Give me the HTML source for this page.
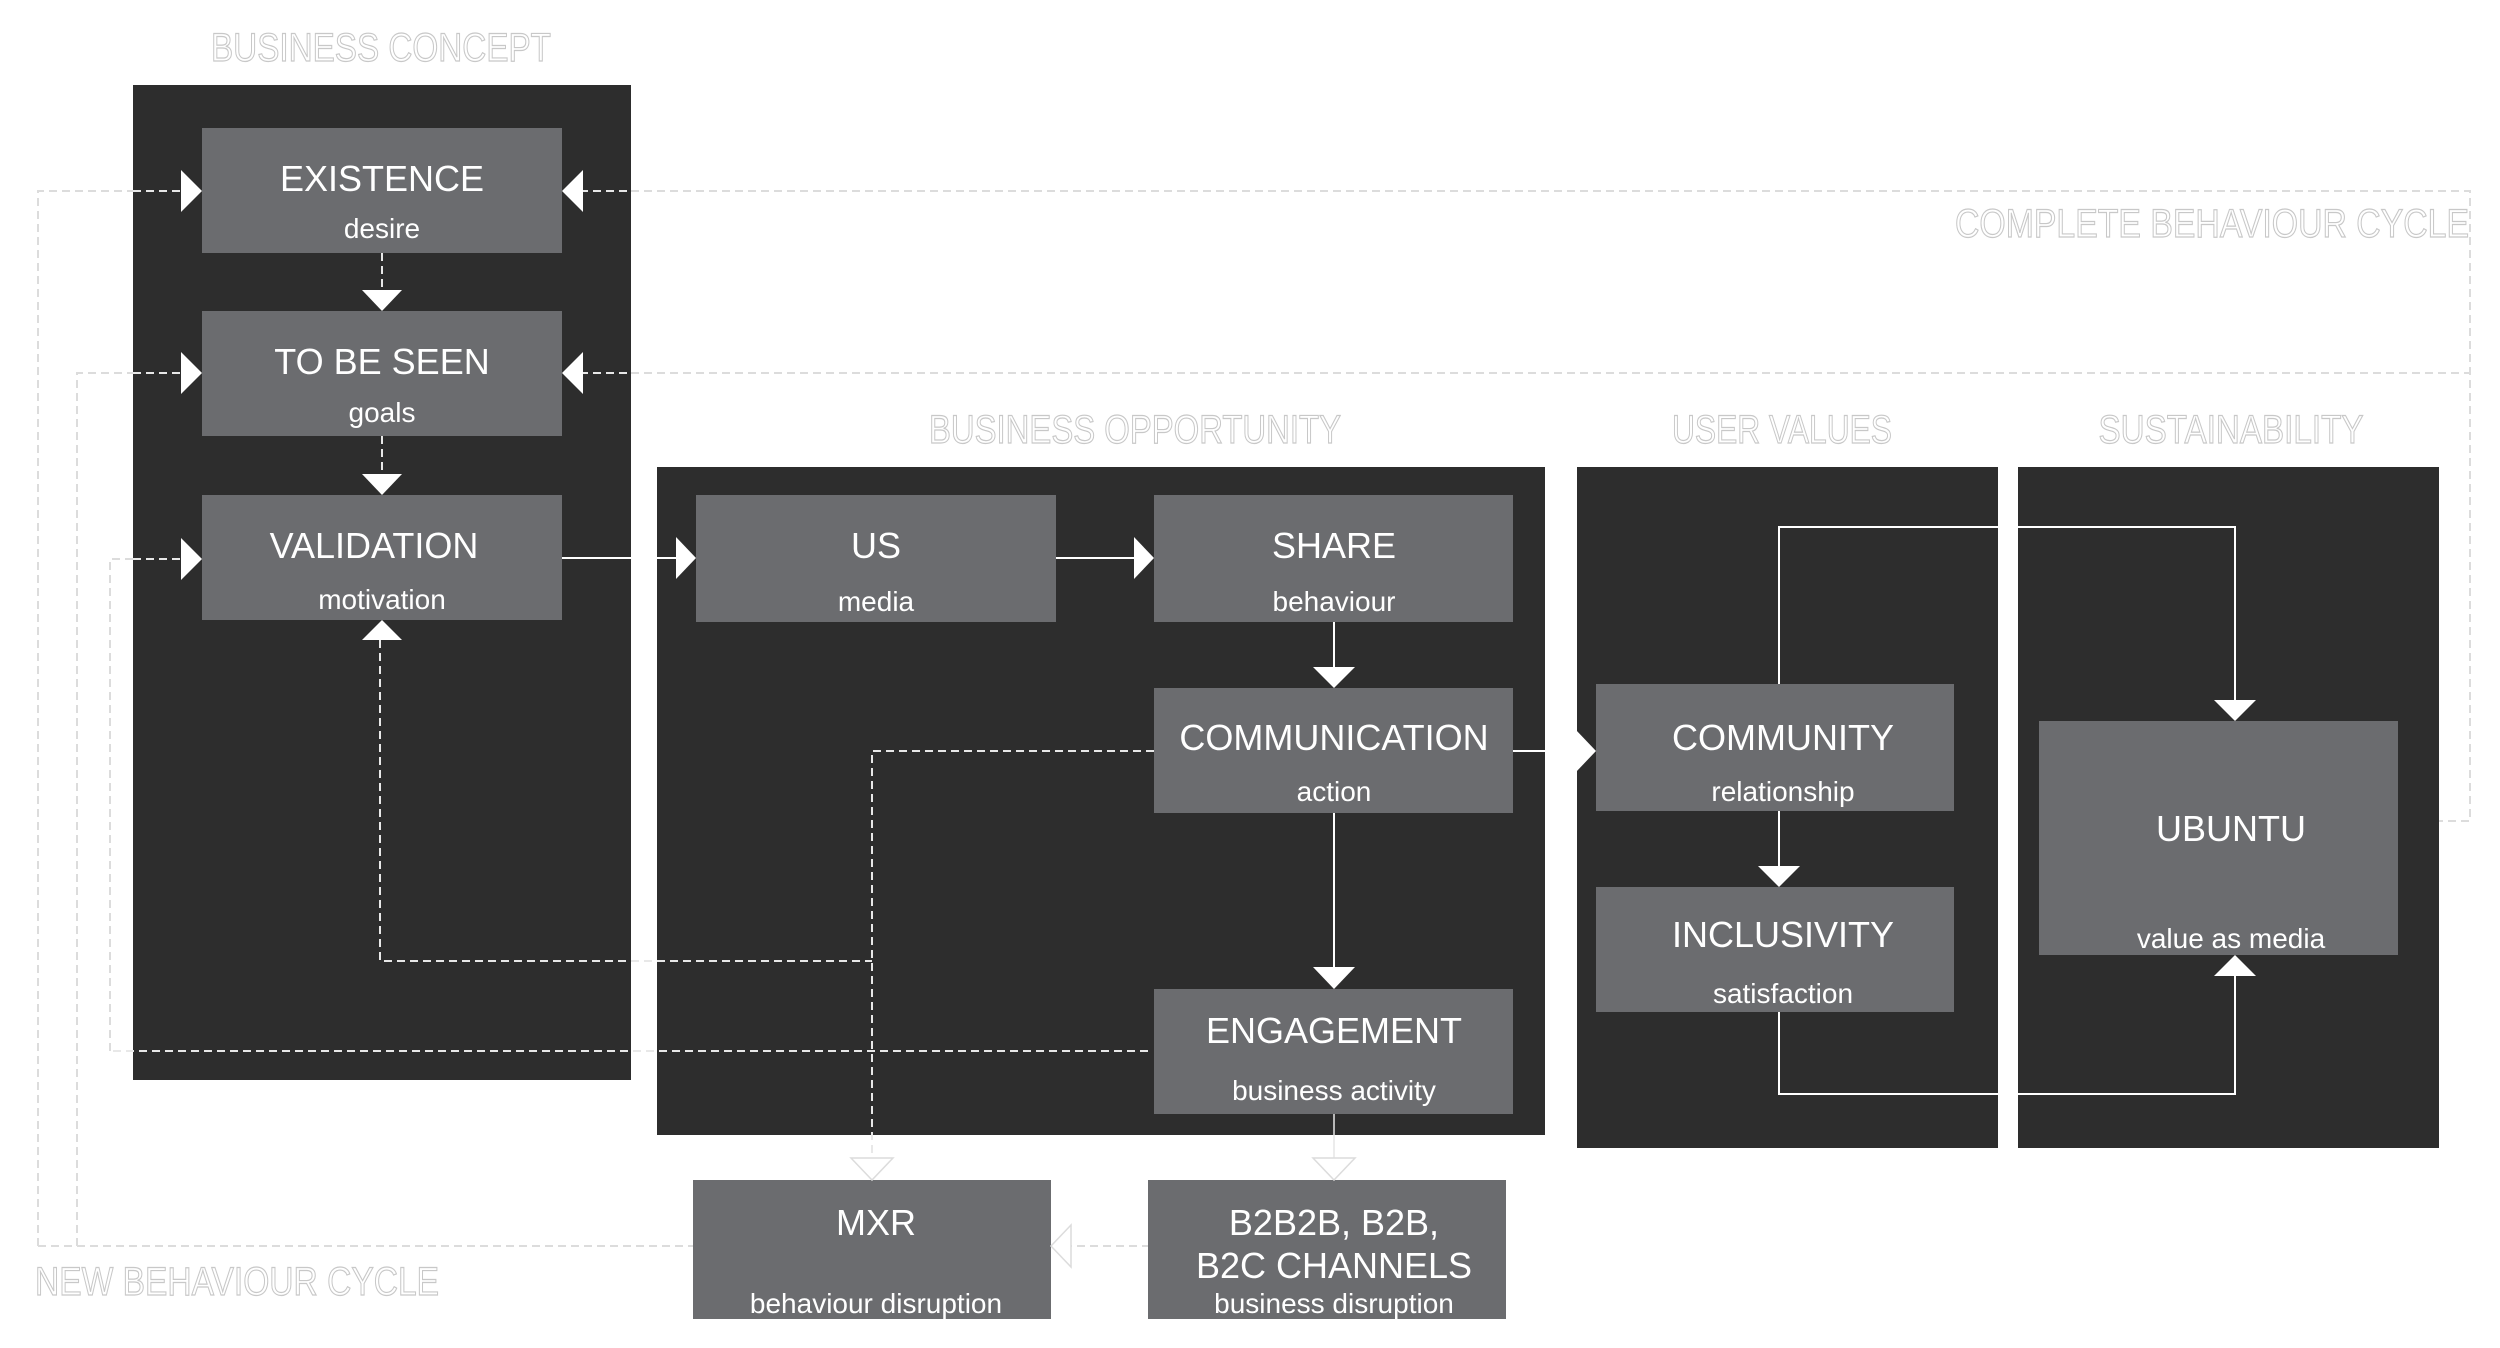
<!DOCTYPE html>
<html><head><meta charset="utf-8"><style>html,body{margin:0;padding:0;background:#fff}svg{display:block}</style></head>
<body>
<svg xmlns="http://www.w3.org/2000/svg" width="2500" height="1348" viewBox="0 0 2500 1348" font-family="'Liberation Sans', sans-serif">
<!-- outer dashed cycle lines -->
<g fill="none" stroke="#dcdcdc" stroke-width="2" stroke-dasharray="8,5">
<polyline points="38,1246 38,191 133,191"/>
<polyline points="77,1246 77,373 133,373"/>
<polyline points="110,1051 110,559 133,559"/>
<line x1="38" y1="1246" x2="693" y2="1246"/>
<line x1="1051" y1="1246" x2="1148" y2="1246"/>
<polyline points="631,191 2470,191 2470,821 2398,821"/>
<polyline points="631,373 2470,373"/>
</g>
<!-- panels -->
<rect x="133" y="85" width="498" height="995" fill="#2d2d2d"/>
<rect x="657" y="467" width="888" height="668" fill="#2d2d2d"/>
<rect x="1577" y="467" width="421" height="681" fill="#2d2d2d"/>
<rect x="2018" y="467" width="421" height="681" fill="#2d2d2d"/>
<!-- section titles -->
<g fill="#fff" stroke="#c8c8c8" stroke-width="1.2" font-size="40" text-anchor="middle">
<text x="381" y="61" textLength="340" lengthAdjust="spacingAndGlyphs">BUSINESS CONCEPT</text>
<text x="1135" y="443" textLength="412" lengthAdjust="spacingAndGlyphs">BUSINESS OPPORTUNITY</text>
<text x="1782" y="443" textLength="220" lengthAdjust="spacingAndGlyphs">USER VALUES</text>
<text x="2231" y="443" textLength="265" lengthAdjust="spacingAndGlyphs">SUSTAINABILITY</text>
<text x="2212" y="237" textLength="514" lengthAdjust="spacingAndGlyphs">COMPLETE BEHAVIOUR CYCLE</text>
<text x="237" y="1295" textLength="404" lengthAdjust="spacingAndGlyphs">NEW BEHAVIOUR CYCLE</text>
</g>
<!-- dashed lines inside panels -->
<g fill="none" stroke="#e8e8e8" stroke-width="2" stroke-dasharray="8,5">
<line x1="133" y1="191" x2="185" y2="191"/>
<line x1="133" y1="373" x2="185" y2="373"/>
<line x1="133" y1="559" x2="185" y2="559"/>
<line x1="580" y1="191" x2="631" y2="191"/>
<line x1="580" y1="373" x2="631" y2="373"/>
<line x1="382" y1="253" x2="382" y2="292"/>
<line x1="382" y1="436" x2="382" y2="476"/>
<polyline points="1154,751 872,751 872,1160"/>
<polyline points="380,640 380,961 872,961"/>
<line x1="1148" y1="1051" x2="110" y2="1051"/>
</g>
<!-- boxes -->
<g fill="#6b6c6f">
<rect x="202" y="128" width="360" height="125"/>
<rect x="202" y="311" width="360" height="125"/>
<rect x="202" y="495" width="360" height="125"/>
<rect x="696" y="495" width="360" height="127"/>
<rect x="1154" y="495" width="359" height="127"/>
<rect x="1154" y="688" width="359" height="125"/>
<rect x="1154" y="989" width="359" height="125"/>
<rect x="1596" y="684" width="358" height="127"/>
<rect x="1596" y="887" width="358" height="125"/>
<rect x="2039" y="721" width="359" height="234"/>
<rect x="693" y="1180" width="358" height="139"/>
<rect x="1148" y="1180" width="358" height="139"/>
</g>
<!-- solid connectors -->
<g fill="none" stroke="#fff" stroke-width="2">
<line x1="562" y1="558" x2="680" y2="558"/>
<line x1="1056" y1="558" x2="1138" y2="558"/>
<line x1="1334" y1="622" x2="1334" y2="670"/>
<line x1="1334" y1="813" x2="1334" y2="970"/>
<line x1="1513" y1="751" x2="1580" y2="751"/>
<line x1="1779" y1="811" x2="1779" y2="870"/>
<polyline points="1779,684 1779,527 2235,527 2235,705"/>
<polyline points="1779,1012 1779,1094 2235,1094 2235,970"/>
</g>
<g fill="none" stroke="#e6e6e6" stroke-width="1.5">
<line x1="1334" y1="1114" x2="1334" y2="1160"/>
</g>
<!-- arrowheads -->
<g fill="#fff">
<polygon points="362,290 402,290 382,311"/>
<polygon points="362,474 402,474 382,495"/>
<polygon points="362,640 402,640 382,620"/>
<polygon points="181,170 202,191 181,212"/>
<polygon points="181,352 202,373 181,394"/>
<polygon points="181,538 202,559 181,580"/>
<polygon points="583,170 562,191 583,212"/>
<polygon points="583,352 562,373 583,394"/>
<polygon points="676,537 696,558 676,579"/>
<polygon points="1134,537 1154,558 1134,579"/>
<polygon points="1313,667 1355,667 1334,688"/>
<polygon points="1313,967 1355,967 1334,989"/>
<polygon points="1576,730 1596,751 1576,772"/>
<polygon points="1758,866 1800,866 1779,887"/>
<polygon points="2214,700 2256,700 2235,721"/>
<polygon points="2214,976 2256,976 2235,955"/>
</g>
<g fill="#fff" stroke="#dcdcdc" stroke-width="1.5">
<polygon points="851,1158 893,1158 872,1180"/>
<polygon points="1313,1158 1355,1158 1334,1180"/>
<polygon points="1071,1225 1051,1246 1071,1267"/>
</g>
<!-- labels -->
<g fill="#fff" text-anchor="middle">
<g font-size="36">
<text x="382" y="191">EXISTENCE</text>
<text x="382" y="374">TO BE SEEN</text>
<text x="374" y="558">VALIDATION</text>
<text x="876" y="558">US</text>
<text x="1334" y="558">SHARE</text>
<text x="1334" y="750">COMMUNICATION</text>
<text x="1334" y="1043">ENGAGEMENT</text>
<text x="1783" y="750">COMMUNITY</text>
<text x="1783" y="947">INCLUSIVITY</text>
<text x="2231" y="841">UBUNTU</text>
<text x="876" y="1235">MXR</text>
<text x="1334" y="1235">B2B2B, B2B,</text>
<text x="1334" y="1278">B2C CHANNELS</text>
</g>
<g font-size="28">
<text x="382" y="238">desire</text>
<text x="382" y="422">goals</text>
<text x="382" y="609">motivation</text>
<text x="876" y="611">media</text>
<text x="1334" y="611">behaviour</text>
<text x="1334" y="801">action</text>
<text x="1334" y="1100">business activity</text>
<text x="1783" y="801">relationship</text>
<text x="1783" y="1003">satisfaction</text>
<text x="2231" y="948">value as media</text>
<text x="876" y="1313">behaviour disruption</text>
<text x="1334" y="1313">business disruption</text>
</g>
</g>
</svg>
</body></html>
